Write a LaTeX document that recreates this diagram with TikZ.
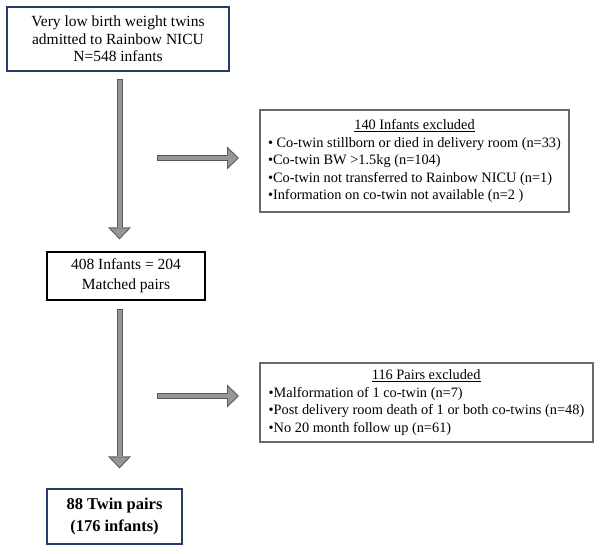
\documentclass[tikz,border=0pt]{standalone}
\usepackage{fontspec}
\setmainfont{Liberation Serif}
\usepackage{xcolor}
\usetikzlibrary{positioning, arrows.meta}

\definecolor{boxblue}{RGB}{38,58,107}
\definecolor{boxgray}{RGB}{105,105,105}
\definecolor{arrowdark}{RGB}{88,88,88}
\definecolor{arrowlight}{RGB}{150,150,150}

\tikzset{
  box/.style={draw, line width=1.2pt, align=center, inner sep=0pt},
  bluebox/.style={box, draw=boxblue},
  graybox/.style={draw=boxgray, line width=2pt, align=left, inner xsep=7.5pt, inner ysep=0pt,
    font=\fontsize{14.35}{17.5}\selectfont},
  arrowout/.style={draw=arrowdark, line width=6pt, shorten <=0pt, shorten >=0pt,
    -{Triangle[length=12pt, width=23pt, line width=0pt]}},
  arrowin/.style={draw=arrowlight, line width=4pt, shorten <=1pt, shorten >=1.45pt,
    -{Triangle[length=9.6pt, width=18.3pt, line width=0pt]}},
  fatarrow/.style={arrowin, preaction={arrowout}},
}

\begin{document}
\begin{tikzpicture}[x=1pt, y=1pt]
\useasboundingbox (0,0) rectangle (601,-553);

% main column
\node[bluebox, minimum width=222pt, minimum height=64pt,
  font=\fontsize{15.5}{17.5}\selectfont] (admitted) at (118,-39)
  {Very low birth weight twins\\admitted to Rainbow NICU\\N=548 infants};
\node[box, draw=black, minimum width=158pt, minimum height=48pt,
  font=\fontsize{15.5}{20}\selectfont] (matched) at (126,-276)
  {408 Infants = 204\\Matched pairs};
\node[bluebox, minimum width=135pt, minimum height=55pt,
  font=\fontsize{16.5}{22}\selectfont\bfseries] (final) at (114.5,-516.5)
  {88 Twin pairs\\(176 infants)};

% exclusions
\node[graybox, minimum width=309pt, minimum height=102pt] (excl1) at (414.5,-161)
  {\makebox[293pt]{\underline{140 Infants excluded}}\\
   • Co-twin stillborn or died in delivery room (n=33)\\
   •Co-twin BW >1.5kg (n=104)\\
   •Co-twin not transferred to Rainbow NICU (n=1)\\
   •Information on co-twin not available (n=2 )};
\node[graybox, minimum width=333pt, minimum height=79pt] (excl2) at (426.5,-402.5)
  {\makebox[315pt]{\underline{116 Pairs excluded}}\\
   •Malformation of 1 co-twin (n=7)\\
   •Post delivery room death of 1 or both co-twins (n=48)\\
   •No 20 month follow up (n=61)};

\coordinate (h1) at (157,-158);
\coordinate (h2) at (157,-396);

% arrows
\draw[fatarrow] ([xshift=1.5pt, yshift=-7pt]admitted.south)
  -- ([xshift=1.5pt, yshift=12pt]admitted.south |- matched.north);
\draw[fatarrow] ([xshift=1.5pt, yshift=-8pt]admitted.south |- matched.south)
  -- ([xshift=1.5pt, yshift=20pt]admitted.south |- final.north);
\draw[fatarrow] (h1) -- ([xshift=-20pt]excl1.west |- h1);
\draw[fatarrow] (h2) -- ([xshift=-20pt]excl2.west |- h2);

\end{tikzpicture}
\end{document}
